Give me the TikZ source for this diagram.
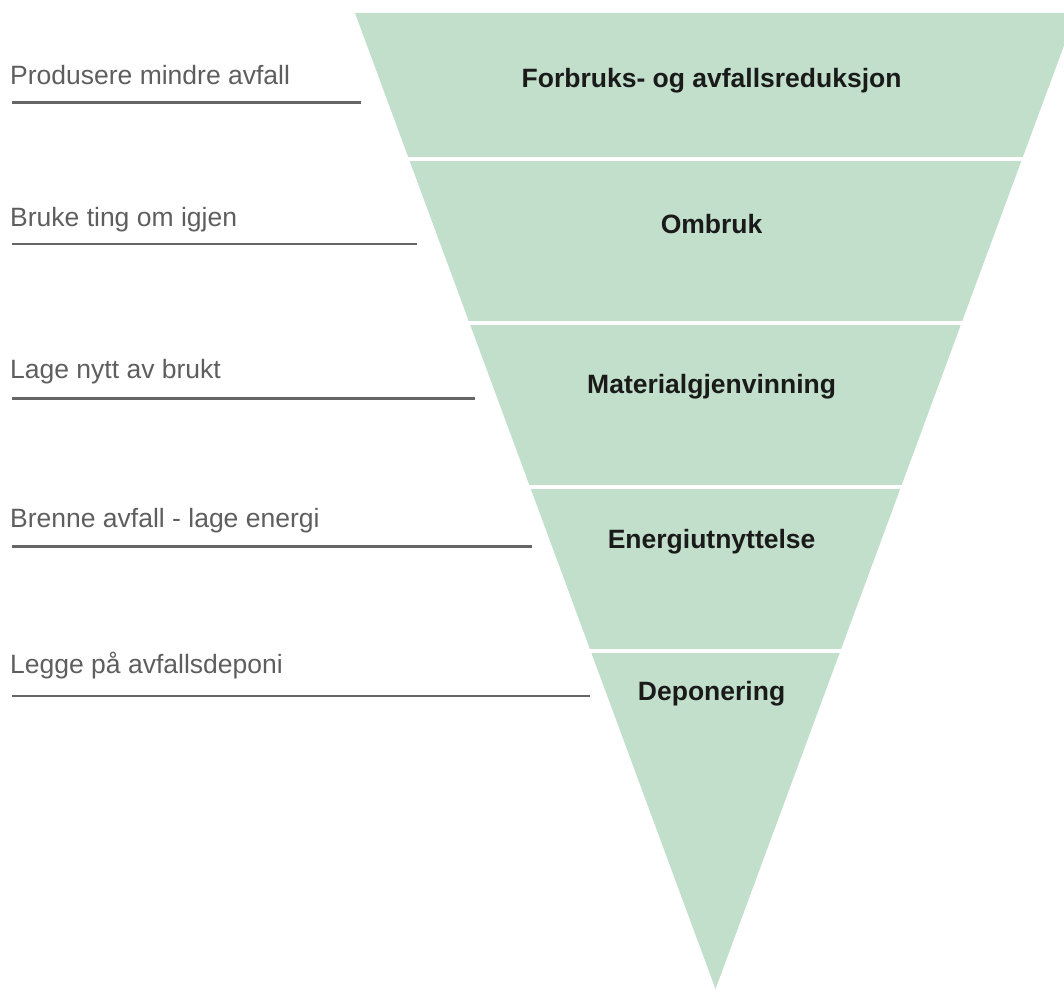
\documentclass[tikz,border=0pt]{standalone}
\usepackage{fontspec}
\setmainfont{Liberation Sans}
\definecolor{bandfill}{HTML}{C1DFCA}
\definecolor{darktext}{HTML}{1A1A1A}
\definecolor{graytext}{HTML}{5E5E5E}
\definecolor{rulegray}{HTML}{666666}
\tikzset{
  bandlabel/.style={font=\fontsize{26.5}{30}\selectfont\bfseries, text=darktext, inner sep=0pt, anchor=base},
  sidelabel/.style={font=\fontsize{26.5}{30}\selectfont, text=graytext, inner sep=0pt, anchor=base west},
  siderule/.style={draw=rulegray, line width=2.6pt},
  divider/.style={draw=white, line width=4pt},
}
\begin{document}
\begin{tikzpicture}[x=1pt, y=-1pt]
\useasboundingbox (0,0) rectangle (1064,990);
\clip (0,0) rectangle (1064,990);
% funnel
\coordinate (tl) at (355,13);
\coordinate (tr) at (1076,13);
\coordinate (apex) at (715.5,989);
\fill[bandfill] (tl) -- (tr) -- (apex) -- cycle;
% dividers
\foreach \yy/\nm in {158.7/d1, 322.7/d2, 486.7/d3, 650.7/d4}{
  \coordinate (\nm a) at (300,\yy);
  \coordinate (\nm b) at (1100,\yy);
  \draw[divider] (\nm a) -- (\nm b);
}
% band labels
\node[bandlabel] (b1) at (711.6,87.3) {Forbruks- og avfallsreduksjon};
\node[bandlabel] (b2) at (711.6,233.3) {Ombruk};
\node[bandlabel] (b3) at (711.6,393.5) {Materialgjenvinning};
\node[bandlabel] (b4) at (711.6,548.3) {Energiutnyttelse};
\node[bandlabel] (b5) at (711.6,700) {Deponering};
% side labels
\node[sidelabel] (s1) at (10,84.3) {Produsere mindre avfall};
\node[sidelabel] (s2) at (10,226.7) {Bruke ting om igjen};
\node[sidelabel] (s3) at (10,378.3) {Lage nytt av brukt};
\node[sidelabel] (s4) at (10,527.3) {Brenne avfall - lage energi};
\node[sidelabel] (s5) at (10,673.3) {Legge på avfallsdeponi};
% side rules
\foreach \yy/\xe/\nm in {102.7/361/r1, 244/417/r2, 398.3/475/r3, 546.7/532/r4, 696/590/r5}{
  \coordinate (\nm a) at (12,\yy);
  \coordinate (\nm b) at (\xe,\yy);
  \draw[siderule] (\nm a) -- (\nm b);
}
\end{tikzpicture}
\end{document}
